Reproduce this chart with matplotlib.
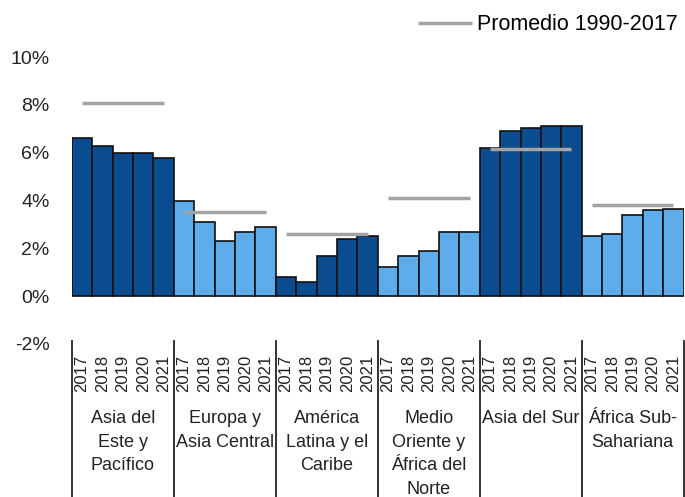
import numpy as np
import matplotlib
matplotlib.use("Agg")
import matplotlib.pyplot as plt
import matplotlib.transforms as mtransforms

plt.rcParams['font.family'] = ['Liberation Sans', 'DejaVu Sans']

years = ['2017', '2018', '2019', '2020', '2021']
regions = ['Asia del\nEste y\nPacífico', 'Europa y\nAsia Central',
           'América\nLatina y el\nCaribe', 'Medio\nOriente y\nÁfrica del\nNorte',
           'Asia del Sur', 'África Sub-\nSahariana']

eap = [6.6, 6.3, 6.0, 6.0, 5.8]
eca = [4.0, 3.1, 2.3, 2.7, 2.9]
lac = [0.8, 0.6, 1.7, 2.4, 2.5]
mena = [1.2, 1.7, 1.9, 2.7, 2.7]
sar = [6.2, 6.9, 7.05, 7.1, 7.1]
ssa = [2.5, 2.6, 3.4, 3.6, 3.65]
promedio = [8.1, 3.5, 2.6, 4.1, 6.15, 3.8]

dark = '#0b4b8f'
light = '#5eacea'
colors = [dark, light, dark, light, dark, light]
series = [eap, eca, lac, mena, sar, ssa]

fig = plt.figure(figsize=(6.85, 4.97), dpi=100)
ax = fig.add_axes([0.105, 0.308, 0.893, 0.577])

n = len(years)
xticks = []
xlabels = []
for g, vals in enumerate(series):
    x = np.arange(n) + g * n
    ax.bar(x, vals, width=1.0, color=colors[g], edgecolor='#111111', linewidth=1.2, zorder=2)
    lbl = 'Promedio 1990-2017' if g == 0 else None
    ax.plot([x[0], x[-1]], [promedio[g], promedio[g]], color='#a3a3a3', lw=2.5,
            zorder=3, label=lbl, solid_capstyle='butt')
    xticks += list(x)
    xlabels += years

ax.axhline(0, color='#eeeeee', lw=1, zorder=1)

ax.set_xlim(-0.5, len(series) * n - 0.5)
ax.set_ylim(-2, 10)
ax.set_yticks([-2, 0, 2, 4, 6, 8, 10])
ax.set_yticklabels(['-2%', '0%', '2%', '4%', '6%', '8%', '10%'], fontsize=14, color='#222222')
ax.set_xticks(xticks)
ax.set_xticklabels(xlabels, rotation=90, fontsize=12, color='#222222')
ax.tick_params(axis='y', length=0, pad=16)
ax.tick_params(axis='x', length=0, pad=8)
for s in ax.spines.values():
    s.set_visible(False)

trans = mtransforms.blended_transform_factory(ax.transData, ax.transAxes)
for g in range(len(series) + 1):
    xb = g * n - 0.5
    ax.plot([xb, xb], [0.01, -0.54], transform=trans, color='#222222', lw=1.3, clip_on=False)

for g, name in enumerate(regions):
    xc = g * n + (n - 1) / 2
    ax.text(xc, -0.232, name, transform=trans, ha='center', va='top', fontsize=13,
            color='#222222', linespacing=1.5)

ax.legend(loc='center right', bbox_to_anchor=(0.99, 1 - 25 / 497), bbox_transform=fig.transFigure,
          frameon=False, fontsize=15.5, handlelength=2.5, handletextpad=0.25,
          borderaxespad=0, borderpad=0)

fig.savefig('out.png', dpi=100)
